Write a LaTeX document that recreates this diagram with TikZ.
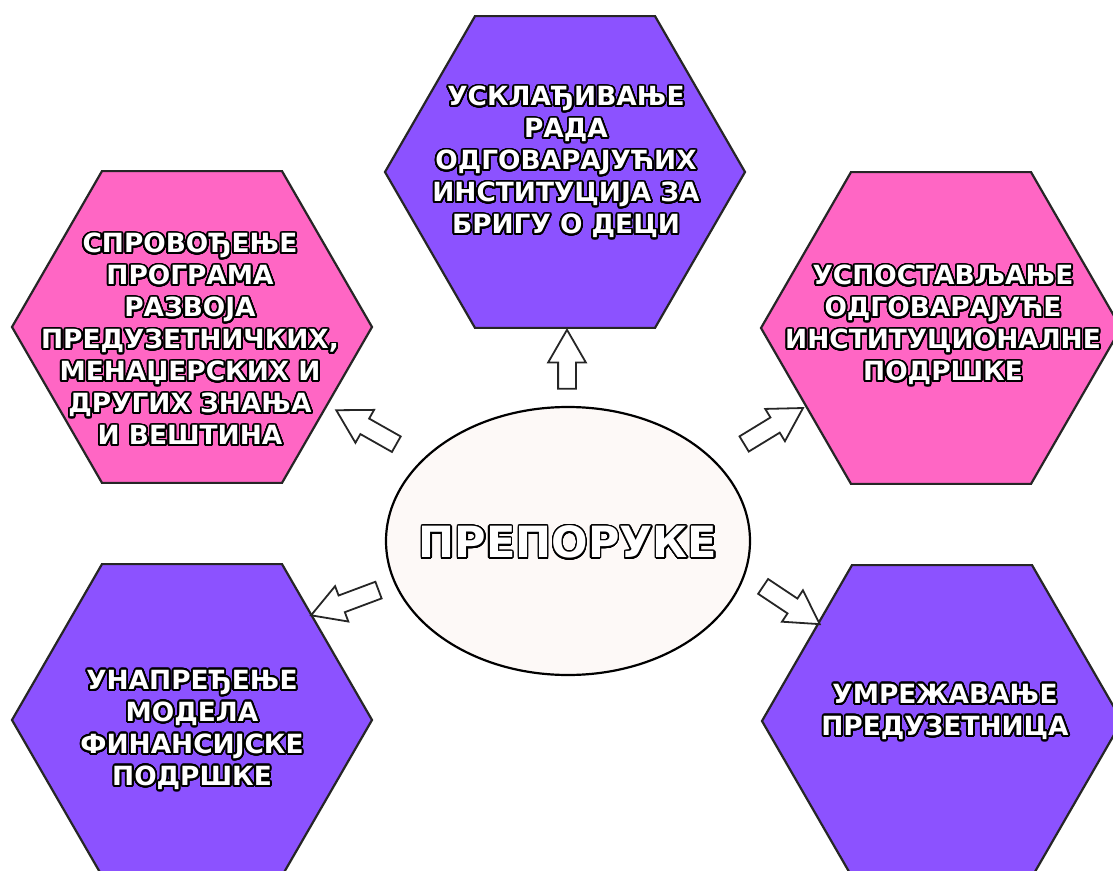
\documentclass[tikz,border=0pt]{standalone}
\usepackage{fontspec}
\setmainfont{DejaVu Sans}
\usepackage{contour}
\contourlength{0.9pt}
\contournumber{32}
\usetikzlibrary{shapes.geometric,shapes.arrows}
\definecolor{hexpurple}{HTML}{8C52FF}
\definecolor{hexpink}{HTML}{FF66C4}
\definecolor{ovalfill}{HTML}{FDF9F7}
\newcommand{\olt}[1]{\contour{black}{#1}}

\begin{document}
\begin{tikzpicture}[x=0.5pt,y=-0.5pt,
    hexa/.style={regular polygon, regular polygon sides=6, minimum size=180pt,
      inner sep=0pt, draw=black!85, line width=1.1pt},
    hextext/.style={align=center, text=white, font=\bfseries\fontsize{13.2}{16}\selectfont},
    blockarrow/.style={single arrow, draw=black!85, fill=white, line width=0.9pt,
      inner xsep=0pt, inner ysep=4pt, single arrow head extend=5pt,
      single arrow tip angle=60}]
  \useasboundingbox (0,0) rectangle (1113,871);

  \node[hexa, fill=hexpurple] (top) at (565,172) {};
  \node[hexa, fill=hexpink] (left) at (192,327) {};
  \node[hexa, fill=hexpink] (right) at (941,328) {};
  \node[hexa, fill=hexpurple] (botleft) at (192,720) {};
  \node[hexa, fill=hexpurple] (botright) at (942,721) {};

  \node[hextext] (ttop) at (566,163)
    {\olt{УСКЛАЂИВАЊЕ}\\\olt{РАДА}\\\olt{ОДГОВАРАЈУЋИХ}\\\olt{ИНСТИТУЦИЈА ЗА}\\\olt{БРИГУ О ДЕЦИ}};
  \node[hextext] (tleft) at (190,340)
    {\olt{СПРОВОЂЕЊЕ}\\\olt{ПРОГРАМА}\\\olt{РАЗВОЈА}\\\olt{ПРЕДУЗЕТНИЧКИХ,}\\\olt{МЕНАЏЕРСКИХ И}\\\olt{ДРУГИХ ЗНАЊА}\\\olt{И ВЕШТИНА}};
  \node[hextext] (tright) at (943,326)
    {\olt{УСПОСТАВЉАЊЕ}\\\olt{ОДГОВАРАЈУЋЕ}\\\olt{ИНСТИТУЦИОНАЛНЕ}\\\olt{ПОДРШКЕ}};
  \node[hextext] (tbotleft) at (192,731)
    {\olt{УНАПРЕЂЕЊЕ}\\\olt{МОДЕЛА}\\\olt{ФИНАНСИЈСКЕ}\\\olt{ПОДРШКЕ}};
  \node[hextext] (tbotright) at (945,713)
    {\olt{УМРЕЖАВАЊЕ}\\\olt{ПРЕДУЗЕТНИЦА}};

  \node[ellipse, draw=black, line width=1.1pt, fill=ovalfill, minimum width=182pt,
    minimum height=134pt, inner sep=0pt] (oval) at (568,541) {};
  \node[text=white, font=\bfseries\fontsize{21.5}{25}\selectfont] (title) at ([yshift=-1pt]oval.center)
    {\contourlength{0.7pt}\contour{black}{ПРЕПОРУКЕ}};

  \foreach \n/\x/\y/\a/\l in {1/567/367/90/29.5, 2/373/431/150.5/34.5, 3/767/430/31.4/34.5,
      4/352/600/200.5/36, 5/785/601/-33.7/34}
    \node[blockarrow, rotate=\a, minimum height=\l pt] (arr\n) at (\x,\y) {};
\end{tikzpicture}
\end{document}
